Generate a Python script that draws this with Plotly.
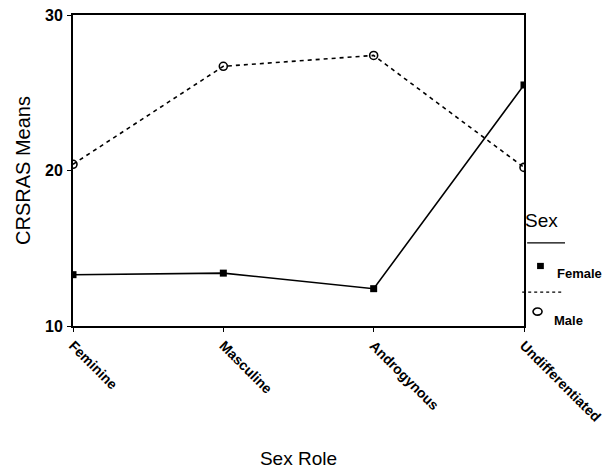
import plotly.graph_objects as go

categories = ["Feminine", "Masculine", "Androgynous", "Undifferentiated"]
female_means = [13.3, 13.4, 12.4, 25.5]
male_means = [20.4, 26.7, 27.4, 20.2]
y_ticks = [10, 20, 30]

FONT = "Liberation Sans, Arial, sans-serif"

fig = go.Figure()
fig.add_trace(go.Scatter(
    x=categories, y=female_means, name="Female", mode="lines+markers",
    line=dict(color="black", width=1.6),
    marker=dict(symbol="square", size=7, color="black"),
    showlegend=False,
))
fig.add_trace(go.Scatter(
    x=categories, y=male_means, name="Male", mode="lines+markers",
    line=dict(color="black", width=1.6, dash="4px,4px"),
    marker=dict(symbol="circle-open", size=8, color="black", line=dict(width=1.6)),
    showlegend=False,
))

# the page body adds an 8px offset, so the figure is 8px smaller than the window
fig.update_layout(
    width=602, height=461,
    margin=dict(l=65, r=86, t=7, b=143),
    paper_bgcolor="white", plot_bgcolor="white",
    font=dict(family=FONT, color="black", size=13),
    xaxis=dict(
        type="category", range=[0, 3], automargin=False,
        showline=True, linecolor="black", linewidth=2, mirror=True,
        ticks="outside", ticklen=4, tickcolor="black",
        tickangle=45, tickfont=dict(size=14, family=FONT, weight="bold"),
        showgrid=False, zeroline=False,
        title=dict(text="Sex Role", font=dict(size=19), standoff=28),
    ),
    yaxis=dict(
        range=[10, 30], tickvals=y_ticks, automargin=False,
        showline=True, linecolor="black", linewidth=2, mirror=True,
        ticks="outside", ticklen=4, tickcolor="black",
        ticklabelstandoff=1, ticklabeloverflow="allow",
        tickfont=dict(size=16, family=FONT, weight="bold"),
        showgrid=False, zeroline=False,
        title=dict(text="CRSRAS Means", font=dict(size=20), standoff=9),
    ),
)

# Legend block drawn beside the plot: title, solid sample, filled square, dashed sample, open circle
fig.add_annotation(text="Sex", xref="paper", yref="paper", x=0.998, y=0.338,
                   xanchor="left", yanchor="middle", showarrow=False,
                   font=dict(size=19, family=FONT))
fig.add_shape(type="line", xref="paper", yref="paper", x0=1.007, x1=1.091,
              y0=0.267, y1=0.267, line=dict(color="black", width=1.3))
fig.add_shape(type="rect", xref="paper", yref="paper", x0=1.029, x1=1.044,
              y0=0.183, y1=0.203, fillcolor="black", line=dict(width=0))
fig.add_annotation(text="Female", xref="paper", yref="paper", x=1.069, y=0.170,
                   xanchor="left", yanchor="middle", showarrow=False,
                   font=dict(size=13, family=FONT, weight="bold"))
fig.add_shape(type="line", xref="paper", yref="paper", x0=0.996, x1=1.084,
              y0=0.109, y1=0.109, line=dict(color="black", width=1.3, dash="3px,3px"))
fig.add_shape(type="circle", xref="paper", yref="paper", x0=1.020, x1=1.040,
              y0=0.035, y1=0.058, line=dict(color="black", width=1.6))
fig.add_annotation(text="Male", xref="paper", yref="paper", x=1.062, y=0.019,
                   xanchor="left", yanchor="middle", showarrow=False,
                   font=dict(size=13, family=FONT, weight="bold"))

fig.write_html("out.html")
